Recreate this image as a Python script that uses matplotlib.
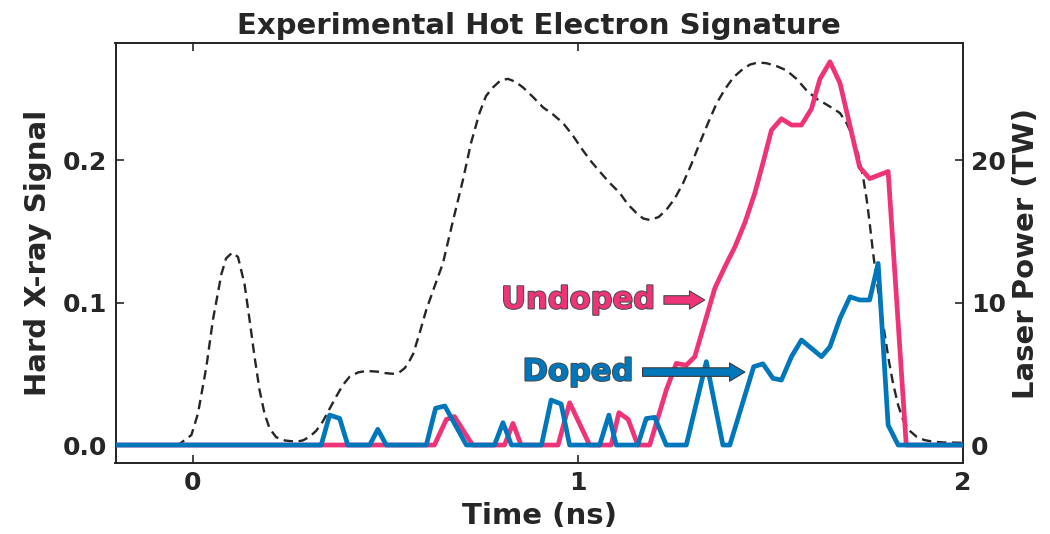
import matplotlib
matplotlib.use("Agg")
import matplotlib.pyplot as plt
import matplotlib.patheffects as pe

# hard x-ray signal, undoped target
t_undoped = [-0.2, 0.628, 0.659, 0.680, 0.727, 0.810, 0.832, 0.853, 0.949, 0.979,
             1.031, 1.087, 1.107, 1.131, 1.156, 1.187, 1.230, 1.256, 1.282, 1.304,
             1.356, 1.382, 1.408, 1.434, 1.460, 1.481, 1.503, 1.529, 1.555, 1.581,
             1.607, 1.629, 1.655, 1.681, 1.732, 1.758, 1.806, 1.853, 2.0]
undoped = [0.0, 0.0, 0.018, 0.020, 0.0, 0.0, 0.0152, 0.0, 0.0, 0.0297,
           0.0, 0.0, 0.0227, 0.018, 0.0, 0.0, 0.0386, 0.0573, 0.056, 0.062,
           0.110, 0.125, 0.139, 0.156, 0.177, 0.198, 0.221, 0.229, 0.2246, 0.2246,
           0.236, 0.257, 0.269, 0.254, 0.195, 0.187, 0.192, 0.0, 0.0]

# hard x-ray signal, doped target
t_doped = [-0.2, 0.334, 0.356, 0.382, 0.403, 0.460, 0.481, 0.503, 0.607, 0.631,
           0.655, 0.711, 0.784, 0.806, 0.828, 0.906, 0.931, 0.957, 0.979, 1.057,
           1.081, 1.100, 1.156, 1.178, 1.200, 1.230, 1.282, 1.334, 1.377, 1.395,
           1.457, 1.481, 1.507, 1.529, 1.555, 1.581, 1.633, 1.655, 1.681, 1.707,
           1.732, 1.758, 1.780, 1.806, 1.832, 2.0]
doped = [0.0, 0.0, 0.021, 0.0187, 0.0, 0.0, 0.011, 0.0, 0.0, 0.0258,
         0.0274, 0.0, 0.0, 0.0157, 0.0, 0.0, 0.0316, 0.0288, 0.0, 0.0,
         0.021, 0.0, 0.0, 0.0186, 0.0194, 0.0, 0.0, 0.0585, 0.0, 0.0,
         0.055, 0.057, 0.0468, 0.0456, 0.062, 0.0737, 0.062, 0.069, 0.0889, 0.104,
         0.1018, 0.1018, 0.1275, 0.014, 0.0, 0.0]

# laser power pulse shape (TW)
t_laser = [-0.2, -0.034, -0.003, 0.014, 0.036, 0.053, 0.075, 0.087, 0.103, 0.118,
           0.135, 0.148, 0.161, 0.174, 0.187, 0.200, 0.217, 0.240, 0.269, 0.287,
           0.304, 0.321, 0.338, 0.355, 0.373, 0.390, 0.408, 0.430, 0.451, 0.480,
           0.500, 0.520, 0.537, 0.551, 0.563, 0.573, 0.590, 0.607, 0.628, 0.650,
           0.675, 0.702, 0.723, 0.745, 0.762, 0.780, 0.800, 0.819, 0.838, 0.858,
           0.885, 0.910, 0.936, 0.962, 0.988, 1.013, 1.035, 1.057, 1.083, 1.109,
           1.130, 1.152, 1.170, 1.187, 1.210, 1.230, 1.252, 1.274, 1.295, 1.317,
           1.340, 1.361, 1.383, 1.404, 1.425, 1.447, 1.468, 1.490, 1.516, 1.542,
           1.568, 1.594, 1.620, 1.646, 1.664, 1.681, 1.698, 1.715, 1.728, 1.741,
           1.750, 1.758, 1.766, 1.775, 1.786, 1.797, 1.808, 1.819, 1.832, 1.845,
           1.862, 1.880, 1.900, 1.923, 1.950, 2.0]
laser = [0.0, 0.07, 0.7, 2.2, 5.5, 8.8, 12.0, 13.1, 13.5, 13.2,
         11.3, 8.8, 6.2, 3.86, 2.2, 1.17, 0.55, 0.32, 0.23, 0.33,
         0.58, 1.0, 1.64, 2.5, 3.4, 4.2, 4.8, 5.1, 5.2, 5.15,
         5.05, 5.0, 5.1, 5.4, 5.9, 6.4, 7.9, 9.5, 11.1, 12.75,
         15.6, 18.6, 21.2, 23.3, 24.5, 25.1, 25.6, 25.7, 25.5, 25.1,
         24.4, 23.7, 23.2, 22.6, 21.7, 20.7, 19.9, 19.2, 18.4, 17.7,
         16.9, 16.3, 15.9, 15.8, 16.0, 16.5, 17.3, 18.4, 19.7, 21.2,
         22.7, 24.0, 25.0, 25.8, 26.3, 26.7, 26.85, 26.8, 26.6, 26.3,
         25.7, 24.9, 24.3, 23.9, 23.6, 23.3, 22.6, 21.6, 20.4, 18.8,
         17.3, 15.6, 13.7, 11.8, 9.7, 7.8, 5.9, 4.3, 2.8, 1.75,
         1.0, 0.58, 0.35, 0.23, 0.18, 0.16]

pink = "#EE3377"
blue = "#0077BB"
ink = "#262626"

plt.rcParams["font.family"] = "DejaVu Sans"
plt.rcParams["font.weight"] = "bold"

fig = plt.figure(figsize=(10.5, 5.34), dpi=100)
ax = fig.add_axes([0.110, 0.133, 0.807, 0.786])
ax2 = ax.twinx()

ax2.plot(t_laser, laser, "--", color=ink, lw=1.7, dashes=(4, 2.4))
ax.plot(t_undoped, undoped, color=pink, lw=3.4, zorder=3)
ax.plot(t_doped, doped, color=blue, lw=3.4, zorder=4)
ax.set_zorder(ax2.get_zorder() + 1)
ax.patch.set_visible(False)

ax.set_xlim(-0.2, 2.0)
ax.set_ylim(-0.0126, 0.282)
ax2.set_ylim(-1.26, 28.2)
ax.set_xticks([0, 1, 2])
ax.set_yticks([0.0, 0.1, 0.2])
ax2.set_yticks([0, 10, 20])

ax.set_title("Experimental Hot Electron Signature", fontsize=21, weight="bold", color=ink, pad=7)
ax.set_xlabel("Time (ns)", fontsize=21, weight="bold", color=ink, labelpad=5)
ax.set_ylabel("Hard X-ray Signal", fontsize=21, weight="bold", color=ink, labelpad=8)
ax2.set_ylabel("Laser Power (TW)", fontsize=21, weight="bold", color=ink, labelpad=4)

ax.tick_params(axis="both", direction="in", length=6, width=1.2, labelsize=18,
               colors=ink, top=True, pad=6)
ax2.tick_params(axis="y", direction="in", length=6, width=1.2, labelsize=18,
                colors=ink, pad=6)
for a in (ax, ax2):
    for s in a.spines.values():
        s.set_linewidth(1.3)
        s.set_color(ink)

outline = [pe.withStroke(linewidth=1.4, foreground="#4a4a4a")]
arrow_style = "simple,head_width=0.6,head_length=0.5,tail_width=0.28"
ax.annotate("Undoped", xy=(1.33, 0.1018), xytext=(1.0, 0.1018),
            fontsize=22, weight="bold", color=pink, ha="center", va="center",
            path_effects=outline,
            arrowprops=dict(arrowstyle=arrow_style, fc=pink, ec="#4a4a4a",
                            lw=0.8, shrinkA=5, shrinkB=0))
ax.annotate("Doped", xy=(1.434, 0.0512), xytext=(1.0, 0.0512),
            fontsize=22, weight="bold", color=blue, ha="center", va="center",
            path_effects=outline, zorder=5,
            arrowprops=dict(arrowstyle=arrow_style, fc=blue, ec="#3a3a3a",
                            lw=0.8, shrinkA=5, shrinkB=0))

fig.savefig("out.png", dpi=100)
